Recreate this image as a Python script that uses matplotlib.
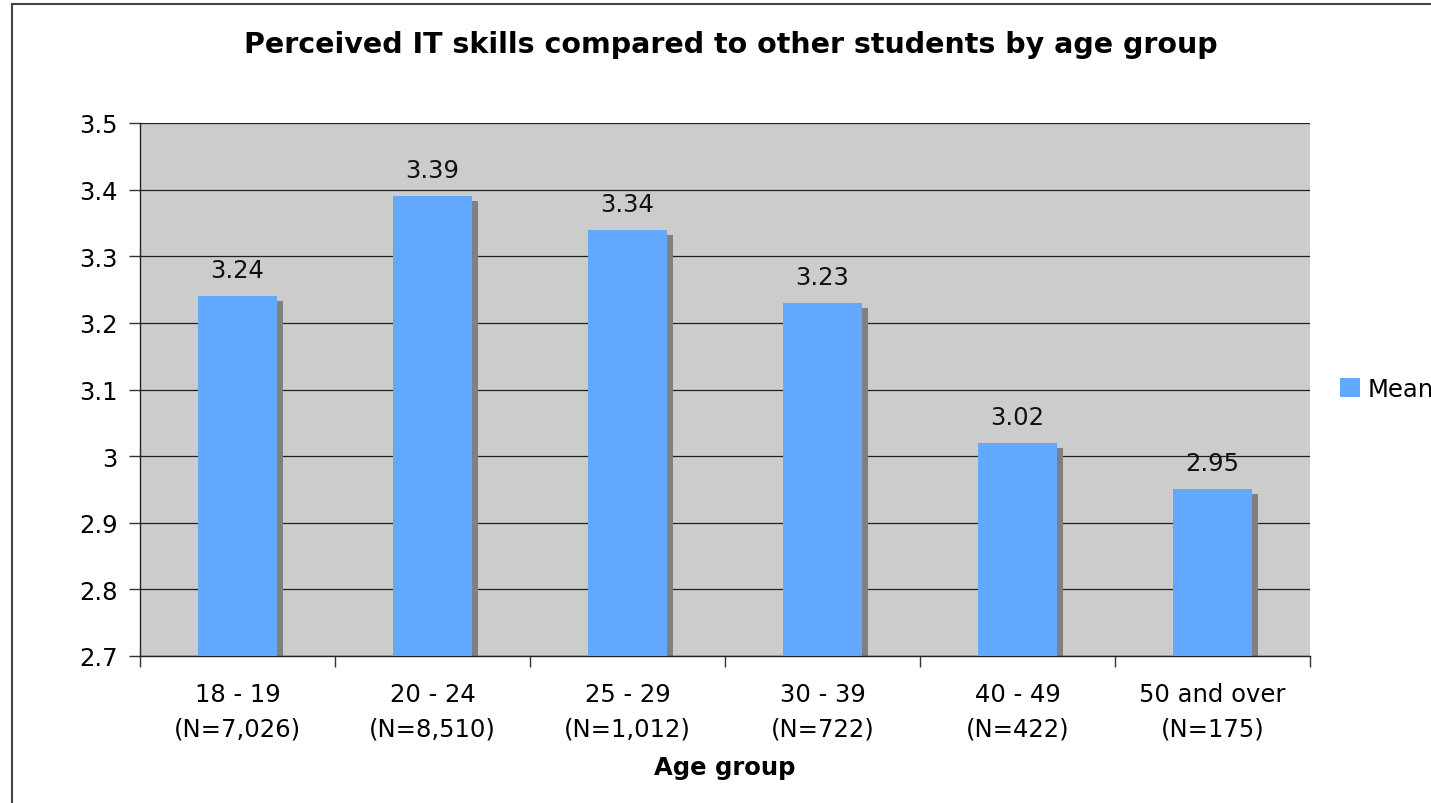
"""Perceived IT skills by age group: bar chart with drop shadows."""

import matplotlib.pyplot as plt
import matplotlib.transforms as mtransforms
from matplotlib.patches import Rectangle

AGE_GROUPS = ["18 - 19", "20 - 24", "25 - 29", "30 - 39", "40 - 49", "50 and over"]
GROUP_SIZES = ["7,026", "8,510", "1,012", "722", "422", "175"]
MEAN_SCORES = [3.24, 3.39, 3.34, 3.23, 3.02, 2.95]
Y_TICKS = [2.7, 2.8, 2.9, 3.0, 3.1, 3.2, 3.3, 3.4, 3.5]
Y_TICK_LABELS = ["2.7", "2.8", "2.9", "3", "3.1", "3.2", "3.3", "3.4", "3.5"]

BAR_COLOR = "#63a8ff"
SHADOW_COLOR = "#808080"
PLOT_BG = "#cccccc"
W, H = 1431, 804
FS = 17.5

plt.rcParams["font.family"] = ["DejaVu Sans"]

fig = plt.figure(figsize=(W / 100, H / 100), dpi=100, facecolor="white")
ax = fig.add_axes([140 / W, 1 - 657 / H, (1310 - 140) / W, (657 - 124) / H])
ax.set_facecolor(PLOT_BG)

positions = list(range(len(AGE_GROUPS)))
bar_width = 0.405
heights = [v - 2.7 for v in MEAN_SCORES]

# shadow: same bars shifted a few pixels right and down
shadow_offset = mtransforms.ScaledTranslation(6 / 100, -5 / 100, fig.dpi_scale_trans)
shadows = ax.bar(positions, heights, bottom=2.7, width=bar_width,
                 color=SHADOW_COLOR, zorder=2)
for patch in shadows:
    patch.set_transform(ax.transData + shadow_offset)

ax.bar(positions, heights, bottom=2.7, width=bar_width,
       color=BAR_COLOR, zorder=3, label="Mean")

for x, value in zip(positions, MEAN_SCORES):
    ax.annotate(f"{value:.2f}", (x, value), xytext=(0, 19), textcoords="offset pixels",
                ha="center", va="baseline", fontsize=FS, color="#111111", zorder=4)

ax.set_ylim(2.7, 3.5)
ax.set_xlim(-0.5, len(AGE_GROUPS) - 0.5)
ax.set_yticks(Y_TICKS, Y_TICK_LABELS)
ax.yaxis.grid(True, color="#202020", linewidth=0.9, zorder=1)
ax.set_axisbelow(True)

# category boundaries carry the tick marks; labels sit between them
ax.set_xticks([p - 0.5 for p in positions] + [len(AGE_GROUPS) - 0.5])
ax.set_xticklabels([])
ax.set_xticks(positions, minor=True)
ax.set_xticklabels([f"{g}\n(N={n})" for g, n in zip(AGE_GROUPS, GROUP_SIZES)],
                   minor=True, fontsize=FS, linespacing=1.55)
ax.tick_params(axis="x", which="minor", length=0, pad=19)
ax.tick_params(axis="x", which="major", length=8, width=1, color="#333333")
ax.tick_params(axis="y", length=8, width=1, color="#333333", labelsize=FS, pad=8)

for side in ("top", "right"):
    ax.spines[side].set_visible(False)
for side in ("left", "bottom"):
    ax.spines[side].set_color("#222222")
    ax.spines[side].set_linewidth(1)

fig.text(725 / W, 1 - 775 / H, "Age group", ha="center", va="baseline",
         fontsize=FS, fontweight="bold")
fig.text(731 / W, 1 - 53 / H, "Perceived IT skills compared to other students by age group",
         ha="center", va="baseline", fontsize=20.5, fontweight="bold")

ax.legend(loc="center left", bbox_to_anchor=(1340 / W, 1 - 390 / H),
          bbox_transform=fig.transFigure, frameon=False, fontsize=FS,
          handlelength=0.82, handleheight=0.82, handletextpad=0.3, borderpad=0,
          borderaxespad=0)

# chart frame runs past the right and bottom edges of the image
fig.patches.append(Rectangle((12 / W, -0.1), 1.2, 1 - 5 / H + 0.1, transform=fig.transFigure,
                             fill=False, edgecolor="#444444", linewidth=1.5))

fig.savefig("out.png", dpi=100, facecolor="white")
